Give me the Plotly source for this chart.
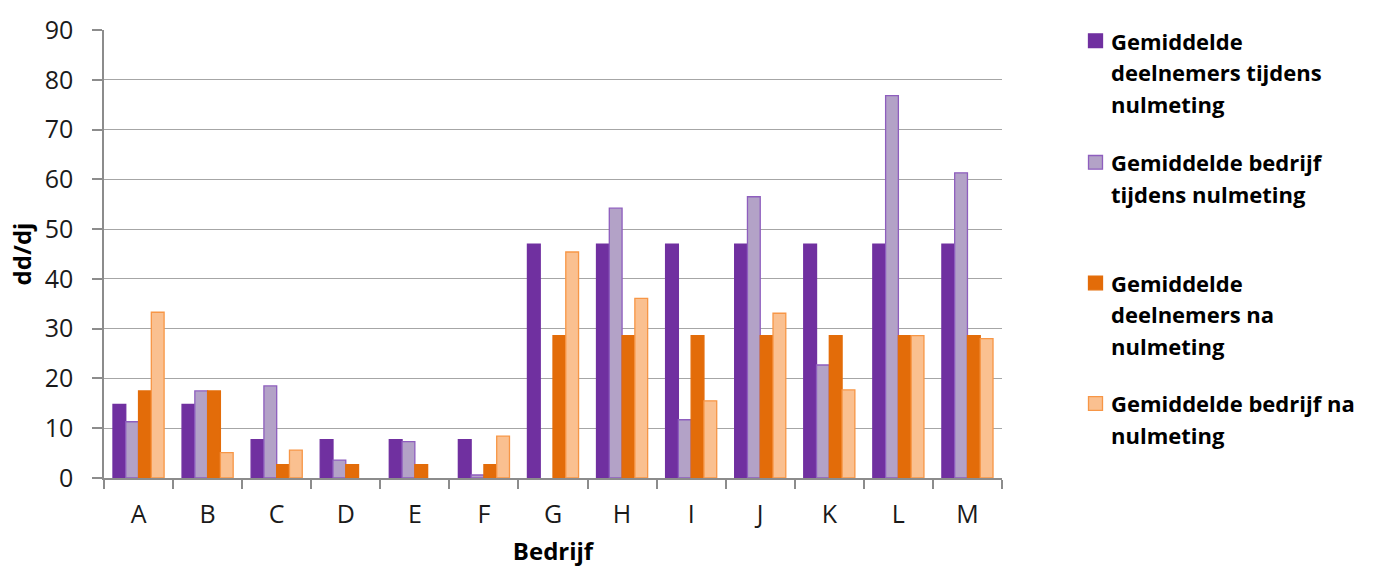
import plotly.graph_objects as go

bedrijven = ["A", "B", "C", "D", "E", "F", "G", "H", "I", "J", "K", "L", "M"]

# None = no bar for that company
deelnemers_tijdens = [14.8, 14.8, 7.7, 7.7, 7.7, 7.7, 47.0, 47.0, 47.0, 47.0, 47.0, 47.0, 47.0]
bedrijf_tijdens = [11.3, 17.5, 18.5, 3.6, 7.3, 0.6, None, 54.2, 11.7, 56.5, 22.7, 76.8, 61.3]
deelnemers_na = [17.5, 17.5, 2.7, 2.7, 2.7, 2.7, 28.6, 28.6, 28.6, 28.6, 28.6, 28.6, 28.6]
bedrijf_na = [33.3, 5.1, 5.6, None, None, 8.4, 45.4, 36.1, 15.5, 33.1, 17.7, 28.6, 28.0]

series_labels = [
    ["Gemiddelde", "deelnemers tijdens", "nulmeting"],
    ["Gemiddelde bedrijf", "tijdens nulmeting"],
    ["Gemiddelde", "deelnemers na", "nulmeting"],
    ["Gemiddelde bedrijf na", "nulmeting"],
]
y_ticks = [0, 10, 20, 30, 40, 50, 60, 70, 80, 90]

FONT = "Open Sans"
W, H = 1375, 573
ML, MR, MT, MB = 104, 373, 22, 94
fills = ["#7030A0", "#B3A2C7", "#E36C09", "#FAC090"]
edges = ["#7030A0", "#8E5EBE", "#E36C09", "#F79646"]
series = [deelnemers_tijdens, bedrijf_tijdens, deelnemers_na, bedrijf_na]


def px_x(px):
    return (px - ML) / (W - ML - MR)


def px_y(py):
    return (H - MB - py) / (H - MT - MB)


fig = go.Figure()
for i, vals in enumerate(series):
    fig.add_trace(go.Bar(
        x=bedrijven, y=vals, name=" ".join(series_labels[i]), showlegend=False,
        marker=dict(color=fills[i], line=dict(color=edges[i], width=1.3)),
    ))

# Legend on the right, drawn as swatches and text lines
item_tops = [33, 157, 280, 403]
line_step = 32
annotations = []
shapes = []
for i, lines in enumerate(series_labels):
    top = item_tops[i]
    shapes.append(dict(
        type="rect", xref="paper", yref="paper",
        x0=px_x(1088.5), x1=px_x(1102.5), y0=px_y(top + 7), y1=px_y(top - 7),
        fillcolor=fills[i], line=dict(color=edges[i], width=1.3),
    ))
    for j, txt in enumerate(lines):
        annotations.append(dict(
            text=txt, xref="paper", yref="paper",
            x=px_x(1109), y=px_y(top + j * line_step),
            xanchor="left", yanchor="middle", showarrow=False,
            font=dict(family=FONT, size=22, color="#000000", weight="bold"),
        ))

fig.update_layout(
    width=W, height=H,
    margin=dict(l=ML, r=MR, t=MT, b=MB),
    plot_bgcolor="white", paper_bgcolor="white",
    barmode="group", bargap=0.26, bargroupgap=0.0,
    font=dict(family=FONT, size=22, color="#000000"),
    showlegend=False,
    annotations=annotations,
    shapes=shapes,
)
fig.update_yaxes(
    range=[0, 90], tickvals=y_ticks, showgrid=True, gridcolor="#A6A6A6", gridwidth=1.2,
    showline=True, linecolor="#8C8C8C", linewidth=1.5,
    ticks="outside", ticklen=10, tickcolor="#8C8C8C", tickwidth=1.5,
    ticklabelstandoff=14,
    tickfont=dict(family=FONT, size=25, color="#1A1A1A"),
    title=dict(text="dd/dj", font=dict(family=FONT, size=24, weight="bold"), standoff=6),
    zeroline=False,
)
fig.update_xaxes(
    showline=True, linecolor="#8C8C8C", linewidth=2,
    ticks="outside", ticklen=9, tickcolor="#8C8C8C", tickwidth=1.5, tickson="boundaries",
    ticklabelstandoff=13,
    tickfont=dict(family=FONT, size=25, color="#1A1A1A"),
    title=dict(text="Bedrijf", font=dict(family=FONT, size=24, weight="bold"), standoff=14),
)

fig.write_html("out.html")
